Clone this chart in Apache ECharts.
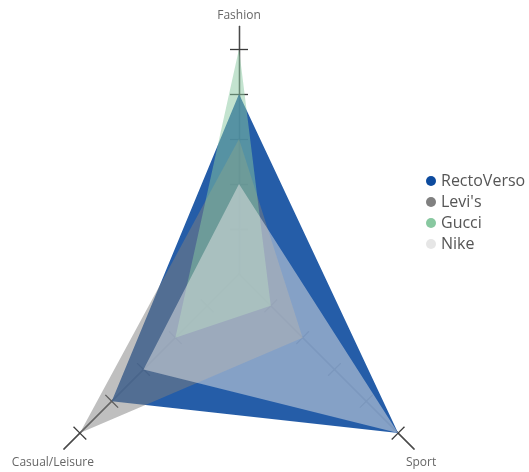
<!DOCTYPE html>
<html>
<head>
<meta charset="utf-8">
<script src="https://cdn.jsdelivr.net/npm/echarts@6/dist/echarts.min.js"></script>
<style>
  html, body { margin: 0; padding: 0; background: #fff; }
  #chart { width: 529px; height: 472px; }
</style>
</head>
<body>
<div id="chart"></div>
<script>
// axes of the radar, with their direction (degrees, counter-clockwise from east)
const indicators = ['Fashion', 'Sport', 'Casual/Leisure']
const indicatorAngles = [90, 315, 225]
const tickValues = [1, 2, 3, 4, 5]
const axisMax = 5.5

// values per brand, in the order of indicators
const seriesNames = ['RectoVerso', "Levi's", 'Gucci', 'Nike']
const rectoVerso = [4, 5, 4]
const levis = [3, 2, 5]
const gucci = [5, 1, 2]
const nike = [2, 5, 3]

const colors = ['#0d4b9e', '#808080', '#88c8a0', '#e6e6e6']
const fillOpacity = [0.9, 0.5, 0.5, 0.5]

const center = [239, 274]
const radius = 247.5

const chart = echarts.init(document.getElementById('chart'))

// turn a list of values into a closed polygon in polar coords [r, angle]
function toPolygon(values) {
  const pts = values.map((v, i) => [v, indicatorAngles[i]])
  pts.push(pts[0])
  return pts
}

const polar = []
const angleAxis = []
const radiusAxis = []

// polar 0 holds the data
polar.push({ center, radius })
angleAxis.push({ polarIndex: 0, type: 'value', min: 0, max: 360, startAngle: 0, clockwise: false, show: false })
radiusAxis.push({ polarIndex: 0, type: 'value', min: 0, max: axisMax, show: false })

// one polar per axis side: ticks on both sides make the crosses
indicators.forEach((name, i) => {
  ;[9, -9].forEach((len, k) => {
    const idx = polar.length
    polar.push({ center, radius })
    angleAxis.push({ polarIndex: idx, type: 'value', startAngle: indicatorAngles[i], show: false })
    radiusAxis.push({
      polarIndex: idx,
      type: 'value',
      min: 0,
      max: axisMax,
      interval: 1,
      name: k === 0 ? name : '',
      nameLocation: 'end',
      nameGap: i === 0 ? 5 : 10,
      nameRotate: 0,
      nameTextStyle: {
        color: '#666',
        fontSize: 12,
        align: 'center',
        verticalAlign: i === 0 ? 'bottom' : 'top',
        padding: i === 2 ? [0, 8, 0, 0] : 0,
      },
      axisLine: { show: true, lineStyle: { color: '#4a4a4a', width: 1.3 } },
      axisTick: {
        show: true,
        length: len,
        customValues: tickValues,
        lineStyle: { color: '#3a3a3a', width: 1.3 },
      },
      axisLabel: { show: false },
      splitLine: { show: false },
      splitArea: { show: false },
    })
  })
})

const allValues = [rectoVerso, levis, gucci, nike]
const series = seriesNames.map((name, i) => ({
  name,
  type: 'line',
  coordinateSystem: 'polar',
  polarIndex: 0,
  data: toPolygon(allValues[i]),
  symbol: 'none',
  smooth: false,
  color: colors[i],
  lineStyle: { width: 0, opacity: 0 },
  areaStyle: { color: colors[i], opacity: fillOpacity[i] },
  z: 3 + i,
}))

chart.setOption({
  animation: false,
  textStyle: { fontFamily: 'Open Sans' },
  legend: {
    data: seriesNames,
    orient: 'vertical',
    left: 421,
    top: 168,
    icon: 'circle',
    itemWidth: 10,
    itemHeight: 10,
    itemGap: 5,
    textStyle: { fontSize: 16, color: '#555', fontFamily: 'Open Sans' },
  },
  polar,
  angleAxis,
  radiusAxis,
  series,
})
</script>
</body>
</html>
